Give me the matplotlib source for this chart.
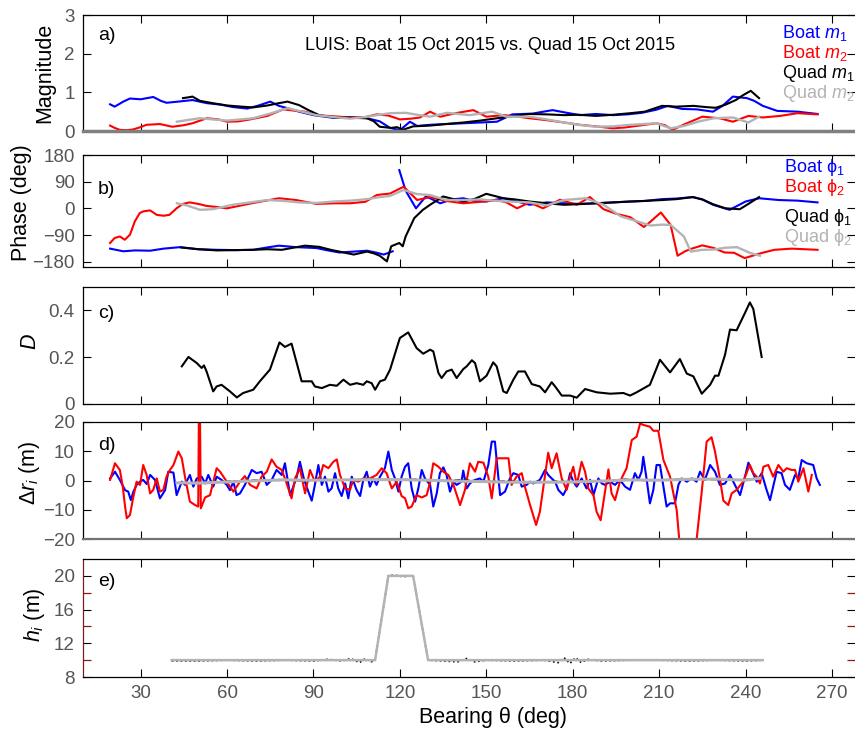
import numpy as np
import matplotlib
matplotlib.use("Agg")
import matplotlib.pyplot as plt

plt.rcParams['font.family'] = ['Liberation Sans', 'DejaVu Sans']
plt.rcParams['mathtext.fontset'] = 'custom'
plt.rcParams['mathtext.rm'] = 'Liberation Sans'
plt.rcParams['mathtext.it'] = 'Liberation Sans:italic'
plt.rcParams['mathtext.bf'] = 'Liberation Sans:bold'

nan = np.nan

# ---- a) magnitude ----
boat_m1_t = [19.4, 21, 24, 26.3, 30, 34.4, 37, 39, 43, 48, 53, 58, 62, 67, 71, 75, 78, 81, 85,
             90, 97, 103, 108.6, 113, 116.6, 120, 123.5, 126, 130.5, 136, 142, 148, 153.7, 159,
             166, 173, 178, 182.5, 188, 194, 199, 204, 209, 213, 218, 223, 228.7, 232, 235.6,
             240.5, 243, 246, 251, 258, 265]
boat_m1 = [0.69, 0.63, 0.76, 0.84, 0.82, 0.88, 0.78, 0.73, 0.76, 0.8, 0.72, 0.68, 0.62, 0.58,
           0.66, 0.76, 0.65, 0.59, 0.5, 0.41, 0.34, 0.36, 0.33, 0.25, 0.08, 0.02, 0.24, 0.13,
           0.16, 0.18, 0.2, 0.22, 0.24, 0.43, 0.45, 0.54, 0.47, 0.41, 0.44, 0.41, 0.43, 0.47,
           0.55, 0.65, 0.57, 0.56, 0.5, 0.65, 0.89, 0.85, 0.78, 0.65, 0.52, 0.5, 0.44]
boat_m2_t = [19.4, 21, 22.8, 25, 27.4, 30, 32, 36.7, 41, 45, 48, 53, 57, 60, 64, 68, 74, 79.5,
             83, 87, 91, 97, 102.7, 108, 112, 116, 120, 124, 127, 130.5, 134, 140, 145.5, 150,
             156, 160, 165, 171, 177, 182.5, 188, 194, 198, 202, 209, 212, 214.7, 219, 225,
             231, 235.6, 241, 246, 252, 258, 265]
boat_m2 = [0.14, 0.08, 0.03, 0.02, 0.04, 0.1, 0.16, 0.18, 0.11, 0.15, 0.2, 0.33, 0.3, 0.24,
           0.25, 0.3, 0.39, 0.56, 0.53, 0.5, 0.41, 0.38, 0.35, 0.36, 0.43, 0.4, 0.3, 0.32, 0.35,
           0.5, 0.37, 0.47, 0.54, 0.37, 0.41, 0.38, 0.33, 0.28, 0.22, 0.16, 0.12, 0.07, 0.09,
           0.13, 0.2, 0.15, 0.03, 0.18, 0.37, 0.33, 0.24, 0.39, 0.35, 0.39, 0.46, 0.43]
quad_m1_t = [44.7, 46.5, 48, 50.6, 55, 60, 65, 69, 74, 78, 81, 85, 88, 92, 97, 103, 108.6, 111,
             113, 117, 119, 121, 124.6, 130.5, 136, 142, 148, 153.7, 159, 165, 171, 177, 182,
             188, 194, 200, 205, 211, 216, 222, 226, 229.6, 233, 236.6, 239, 241.8, 244.7]
quad_m1 = [0.85, 0.87, 0.89, 0.78, 0.72, 0.66, 0.63, 0.61, 0.66, 0.72, 0.76, 0.67, 0.55, 0.41,
           0.35, 0.34, 0.33, 0.25, 0.11, 0.08, 0.1, 0.03, 0.12, 0.14, 0.18, 0.22, 0.27, 0.33,
           0.38, 0.44, 0.43, 0.41, 0.42, 0.39, 0.42, 0.46, 0.5, 0.65, 0.63, 0.65, 0.62, 0.6,
           0.68, 0.8, 0.92, 1.04, 0.85]
quad_m2_t = [42.6, 46, 50.6, 55, 60, 65, 69, 75, 81, 86, 91, 97, 102.7, 108, 112, 116.6, 122,
             126, 130.5, 136.4, 144.3, 152, 157, 165, 171, 177, 182, 188, 194, 200, 209, 214,
             218.6, 224, 229, 235.6, 241, 244.7]
quad_m2 = [0.24, 0.28, 0.33, 0.3, 0.27, 0.3, 0.33, 0.45, 0.59, 0.5, 0.41, 0.36, 0.32, 0.36,
           0.41, 0.46, 0.47, 0.42, 0.37, 0.47, 0.41, 0.5, 0.37, 0.37, 0.3, 0.22, 0.16, 0.11,
           0.12, 0.16, 0.2, 0.07, 0.13, 0.25, 0.33, 0.35, 0.22, 0.37]

# ---- b) phase ----
boat_p1_t = [19.4, 24, 28, 33.3, 38, 43.7, 50, 56.5, 63, 69, 74, 78, 84, 91, 95, 99, 104, 108.6,
             112, 114.4, 117.5, nan, 119.8, 122, 125.6, 129, 130.5, 134, 138, 142, 146, 150,
             156, 160, 165, 171, 177, 182, 188, 194, 200, 205, 211, 216, 221.7, 225, 228.7,
             234.5, 240, 244.7, 251.6, 258, 265]
boat_p1 = [-136, -145, -142, -143, -136, -131, -138, -140, -141, -140, -132, -126, -131, -134,
           -142, -149, -146, -143, -150, -156, -145, nan, 129, 60, 0, 40, 34, 17, 30, 34, 25,
           23, 34, 25, 12, 20, 17, 15, 17, 20, 23, 25, 31, 33, 38, 30, 12, -5, 23, 34, 28, 26, 20]
boat_p2_t = [19.4, 21, 22.8, 24.5, 26.3, 28, 29.7, 31, 33.3, 35.6, 38, 40, 42.6, 44.7, 47, 50,
             53, 56, 60, 64, 68, 73, 78, 84, 91, 97, 102.7, 108, 112, 116.6, 121.3, 126, 130.5,
             136, 142, 148, 153.7, 157, 160.7, 165, 169.7, 175.6, 181.4, 186, 190.7, 195, 200,
             204.7, 207, 210.6, 214, 216.4, 219, 221, 225, 229, 232.7, 236, 239.7, 245.5, 250,
             256, 265]
boat_p2 = [-117, -100, -95, -106, -89, -44, -16, -10, -7, -22, -25, -22, 1, 15, 20, 15, 8, 5, 0,
           8, 16, 25, 34, 28, 15, 17, 17, 22, 45, 50, 73, 28, 38, 25, 17, 22, 28, 20, 0, 20, 0,
           29, 12, 38, -3, -18, -30, -63, -45, -14, -56, -160, -145, -137, -125, -134, -149,
           -150, -168, -151, -140, -136, -140]
quad_p1_t = [44, 50, 56.5, 63, 69, 74, 79, 83, 87, 92, 96, 100, 104, 108.6, 111, 113, 115.5,
             117, 119.8, 121, 122, 125, 128, 130.5, 135, 142, 146, 150, 156, 160, 165, 171, 177,
             182, 188, 194, 200, 205, 211, 216, 221.7, 225, 228.7, 233, 238, 241, 244.7]
quad_p1 = [-132, -138, -142, -141, -140, -138, -140, -133, -126, -130, -140, -148, -156, -146,
           -152, -160, -179, -128, -117, -128, -95, -33, -5, 12, 40, 23, 32, 49, 34, 30, 23, 17,
           12, 14, 17, 20, 23, 25, 28, 31, 38, 30, 14, 0, -3, 15, 38]
quad_p2_t = [42.6, 46, 50.6, 55, 62, 68, 74, 80, 85, 91, 97, 103, 108.6, 113, 116.6, 121.3, 126,
             130.5, 136, 142, 148, 153.7, 160, 165, 171, 177, 184.5, 190.7, 196.7, 202.4, 207,
             211, 214, 218.6, 221, 225, 229, 233, 237, 241.7, 245]
quad_p2 = [17, 10, -5, -3, 12, 20, 28, 25, 20, 18, 23, 26, 31, 38, 42, 62, 48, 45, 28, 28, 30,
           25, 22, 20, 10, 28, 34, 12, -27, -44, -58, -55, -56, -95, -146, -140, -139, -133,
           -131, -151, -160]

# ---- c) D ----
d_t = [44.3, 46.6, 49.5, 51.2, 52.0, 52.9, 55.2, 56.4, 58.1, 61.0, 63.4, 65.6, 69.1, 71.4, 74.9,
       78.2, 80.1, 82.4, 85.9, 89.4, 90.5, 92.9, 95.7, 98.1, 100.4, 102.7, 105.0, 107.3, 108.5,
       110.2, 111.4, 113.1, 114.8, 116.6, 120.0, 122.9, 125.8, 128.1, 130.5, 131.6, 133.4,
       134.5, 136.2, 138.0, 139.7, 142.0, 143.2, 145.0, 146.1, 147.8, 150.1, 152.4, 153.6,
       155.9, 157.1, 159.4, 161.1, 163.4, 165.8, 168.6, 170.4, 172.7, 173.9, 176.2, 179.1,
       181.4, 184.3, 188.3, 193.0, 197.6, 199.9, 202.2, 206.8, 210.3, 213.8, 217.2, 219.6,
       221.9, 224.8, 227.7, 229.4, 230.6, 232.9, 234.6, 236.9, 239.8, 241.5, 242.7, 245.6]
d_val = [0.161, 0.201, 0.175, 0.154, 0.165, 0.139, 0.054, 0.075, 0.082, 0.054, 0.028, 0.047,
         0.061, 0.097, 0.147, 0.263, 0.244, 0.258, 0.097, 0.097, 0.075, 0.068, 0.082, 0.078,
         0.104, 0.082, 0.089, 0.082, 0.097, 0.089, 0.061, 0.097, 0.104, 0.147, 0.282, 0.306,
         0.239, 0.215, 0.232, 0.225, 0.132, 0.111, 0.139, 0.147, 0.111, 0.149, 0.161, 0.187,
         0.175, 0.097, 0.121, 0.178, 0.161, 0.054, 0.047, 0.104, 0.139, 0.139, 0.085, 0.075,
         0.050, 0.093, 0.075, 0.036, 0.036, 0.027, 0.064, 0.050, 0.044, 0.047, 0.036, 0.050,
         0.082, 0.189, 0.135, 0.192, 0.130, 0.118, 0.044, 0.082, 0.121, 0.121, 0.211, 0.318,
         0.315, 0.389, 0.434, 0.406, 0.201]

# ---- d) delta r ----
boat_dr1_t = [19.4, 21.1, 22.8, 24.6, 25.7, 26.6, 27.5, 28.6, 29.8, 30.9, 32.1, 33.3, 35.0,
              36.7, 38.5, 39.6, 41.4, 42.5, 44.3, 45.4, 47.1, 48.3, 49.5, 51.2, 52.4, 53.5,
              55.2, 56.4, 58.1, 59.9, 61.0, 62.2, 63.3, 64.5, 66.2, 68.6, 70.3, 72.0, 73.8,
              75.5, 77.2, 79.0, 80.1, 81.9, 83.0, 84.2, 85.3, 86.5, 87.6, 89.4, 90.5, 91.7,
              92.9, 94.0, 95.2, 96.3, 97.5, 98.6, 99.8, 101.0, 102.1, 103.3, 105.0, 106.2,
              107.3, 108.5, 109.6, 110.8, 111.9, 113.1, 114.8, 116.0, 117.2, 118.3, 119.5,
              120.6, 121.8, 122.9, 124.1, 125.3, 126.4, 127.6, 128.7, 130.5, 131.6, 132.8,
              133.9, 135.1, 136.2, 137.4, 138.6, 139.7, 141.4, 142.0, 143.2, 144.3, 146.1,
              147.8, 149.0, 150.7, 151.9, 153.0, 153.6, 154.8, 156.5, 158.2, 159.4, 161.1,
              162.3, 164.0, 165.2, 166.3, 168.6, 170.4, 171.5, 172.7, 173.9, 175.0, 176.7,
              177.9, 179.1, 180.2, 181.4, 183.1, 184.8, 186.0, 187.2, 188.9, 190.1, 191.2,
              193.0, 194.7, 196.4, 198.2, 199.9, 201.6, 202.8, 203.9, 204.5, 205.7, 206.8,
              208.0, 209.1, 210.3, 211.5, 212.6, 213.8, 215.5, 216.7, 217.8, 219.6, 221.3,
              223.0, 224.2, 225.9, 227.7, 229.4, 231.1, 232.9, 234.6, 236.3, 238.1, 239.8,
              241.0, 242.1, 243.9, 245.6, 247.3, 248.5, 249.6, 250.8, 252.5, 253.7, 255.4,
              257.2, 258.3, 259.5, 261.2, 263.5, 264.7, 265.8]
boat_dr1 = [0.7, 3.0, 0.2, -3.3, -3.8, -6.7, -3.8, -1.5, -0.4, 0.2, -1.2, 1.9, 0.2, -6.1, -3.3,
            3.0, 2.7, -5.0, -0.4, -1.5, 1.9, -2.1, 0.7, 1.3, -1.0, 1.9, -2.1, 1.3, 0.2, -1.5,
            -3.3, -0.4, -5.0, -4.4, -1.5, 3.6, 2.5, 3.0, -1.5, 0.2, 3.6, 1.9, 5.9, -5.0, -2.1,
            1.3, 6.4, 1.3, -2.1, -6.9, -1.5, 5.3, -1.5, 1.3, -3.8, -2.7, 2.5, -2.7, -5.3, -1.0,
            -6.1, 1.3, -3.3, -5.3, 0.2, 3.0, -2.1, 0.7, -1.5, 1.3, 4.2, 9.9, 3.6, 0.7, -3.8,
            1.3, 4.7, 5.9, -2.7, -7.2, -2.7, 3.6, 0.7, -1.5, -8.9, -4.4, 2.5, 4.5, 1.9, -3.8,
            -0.4, -1.5, -0.4, 3.4, -2.7, -1.0, 0.2, 0.7, -0.4, 5.3, 13.3, 13.3, 7.0, -5.0,
            -3.8, 0.7, 2.5, 1.9, -2.1, -1.5, -0.4, -1.0, 0.2, 3.6, 1.9, 0.7, -0.4, -3.2, -5.0,
            -2.7, 2.5, -0.4, -2.1, 0.7, -2.7, 0.2, -5.0, 0.7, -1.0, -1.5, -0.4, -1.5, 0.2,
            -2.1, -3.2, 2.5, 0.2, 3.0, 8.1, 0.2, -7.8, -3.2, 5.3, 5.3, -2.1, -8.9, -7.8, -7.8,
            -1.5, 0.7, -0.4, 0.7, -0.4, 3.0, 0.2, 5.3, 3.0, -1.5, -1.0, 1.9, -1.5, -5.0, 1.3,
            6.1, 3.6, -0.4, 2.5, -3.2, -6.7, -2.1, 3.0, 2.5, -1.5, -3.2, 1.9, 0.7, 7.0, 5.9,
            5.3, 0.7, -1.5]
boat_dr2_t = [19.4, 21.1, 22.8, 23.8, 24.6, 25.2, 26.3, 27.5, 28.6, 29.8, 30.9, 32.1, 33.3,
              34.4, 35.6, 36.7, 37.9, 39.0, 40.2, 41.4, 43.1, 44.3, 45.4, 47.1, 48.9, 50.0,
              50.4, 50.9, 52.4, 54.1, 56.4, 57.6, 59.9, 62.2, 64.5, 66.2, 68.0, 70.3, 72.0,
              73.8, 75.5, 77.2, 79.0, 80.7, 82.4, 83.6, 85.3, 87.1, 88.8, 90.5, 92.3, 93.4,
              95.2, 96.9, 98.1, 99.2, 101.0, 102.7, 103.8, 105.6, 107.3, 109.6, 111.9, 113.7,
              115.4, 117.2, 118.9, 120.6, 121.8, 122.9, 124.1, 125.8, 127.6, 129.3, 130.5,
              131.6, 133.4, 135.1, 136.8, 138.6, 140.9, 142.6, 144.3, 146.1, 147.2, 149.0,
              150.7, 151.9, 153.6, 155.3, 157.7, 158.8, 160.5, 162.3, 163.4, 165.2, 167.3,
              168.6, 170.4, 171.5, 172.7, 174.4, 176.2, 177.9, 179.1, 180.2, 181.4, 183.1,
              184.3, 185.4, 187.2, 188.3, 189.7, 191.2, 192.4, 193.5, 194.7, 196.4, 198.7,
              200.5, 202.2, 203.4, 204.5, 206.8, 208.0, 209.7, 211.5, 213.8, 216.1, 217.0,
              220.0, 223.0, 224.8, 226.5, 228.2, 229.4, 231.1, 232.3, 234.0, 235.2, 236.9,
              239.2, 241.0, 241.5, 242.7, 243.9, 245.0, 246.2, 247.9, 249.6, 251.4, 253.1,
              254.3, 256.0, 257.2, 258.3, 260.1, 261.8, 263.0]
boat_dr2 = [0.2, 5.9, 3.6, -2.1, -8.9, -12.9, -11.8, -5.5, -0.4, -1.5, 5.3, 1.9, -4.4, -3.2,
            0.7, -3.8, -3.2, 1.3, 3.6, 5.3, 9.9, 7.6, 1.3, -7.2, -8.4, -8.9, 45.0, -9.5, -5.8,
            -5.0, 4.2, 3.0, -0.4, -3.8, -0.4, 1.5, -1.5, -2.7, 1.3, 3.0, 7.2, 4.7, 3.6, -1.0,
            -6.1, 0.7, 4.2, -4.4, 3.6, -0.4, 1.3, 5.3, 4.2, 6.4, 7.2, 1.9, -2.7, -3.2, 0.2,
            -0.4, 0.7, 0.7, 1.9, 4.2, 2.5, -2.7, -0.4, -5.3, -6.1, -9.5, -8.9, -5.0, -5.8,
            -5.0, -0.6, 5.9, 4.7, 3.0, 1.9, -1.5, -8.4, -3.2, 5.9, 3.0, 6.4, 6.1, 1.3, -6.1,
            7.6, 7.6, 7.6, -1.5, 1.3, 2.5, -2.1, -8.4, -15.2, -10.7, 1.9, 9.5, 4.2, 9.3, 0.7,
            -3.2, 1.3, 4.7, -1.5, 6.4, 3.0, -2.7, -5.0, -10.7, -13.6, -3.8, 3.8, -4.4, -6.7,
            -0.4, 4.2, 13.8, 15.0, 19.5, 19.0, 18.4, 17.0, 17.0, 7.0, 1.3, -10.1, -20.3,
            -40.0, -20.3, -3.8, 13.3, 14.8, 9.9, 0.7, -6.9, -8.4, -4.4, -3.2, -0.4, 4.2, 5.3,
            2.5, 1.3, -1.0, 4.7, 5.3, 1.3, 5.3, 3.0, 4.2, 3.6, 3.6, -0.4, 4.2, -3.8, 1.9]
quad_dr1_t = [44, 50, 56, 62, 70, 78, 86, 94, 102, 110, 118, 126, 134, 142, 150, 158, 166,
              174, 182, 190, 198, 206, 214, 222, 230, 238, 245]
quad_dr1 = [-0.9, -0.8, -0.6, -0.2, 0.1, 0.3, -0.1, 0.3, 0.1, 0.5, 0.2, 0.4, -0.1, 0.2, -0.4,
            -0.2, -0.7, -0.3, -0.6, -0.2, 0.4, 0.0, 0.3, 0.6, 0.3, 0.1, 0.8]
quad_dr2_t = [42.6, 50, 60, 70, 80, 90, 100, 110, 120, 130, 140, 150, 160, 170, 180, 190, 200,
              210, 220, 230, 240, 245]
quad_dr2 = [-0.8, -0.9, -0.5, -0.1, 0.2, 0.1, 0.2, 0.3, 0.3, 0.1, -0.2, -0.4, -0.6, -0.6,
            -0.5, -0.2, 0.2, 0.1, 0.4, 0.5, 0.1, 0.8]

# ---- e) h ----
quad_h1_t = [40.8, 50, 60, 70, 80, 90, 95, 100, 103, 106, 108, 110, 111.4, 116, 118, 121,
             124.6, 129.8, 135, 140, 143, 146, 150, 160, 170, 175, 177, 179, 181, 183, 185, 190,
             200, 210, 220, 230, 240, 246]
quad_h1 = [9.9, 9.9, 10.0, 9.9, 10.0, 9.9, 10.1, 9.9, 10.2, 9.7, 10.2, 9.8, 10.0, 20.0, 20.1,
           19.9, 20.0, 10.0, 9.9, 9.8, 10.2, 9.8, 10.0, 9.9, 10.0, 9.7, 10.3, 9.6, 10.3, 9.7,
           10.1, 9.9, 10.0, 10.0, 9.9, 10.0, 9.9, 10.0]
quad_h2_t = [40.8, 111.4, 116, 124.6, 129.8, 246]
quad_h2 = [10, 10, 20, 20, 10, 10]

BLUE, RED, BLACK, GRAY = '#0000ff', '#ff0000', '#000000', '#b3b3b3'
TICKC = '#555555'
W, H = 855, 730

fig = plt.figure(figsize=(W / 100, H / 100), dpi=100)


def make_ax(top, bottom, ylim, yticks, ylabels=None):
    ax = fig.add_axes([83 / W, 1 - bottom / H, (W - 83) / W, (bottom - top) / H])
    ax.set_xlim(10, 278)
    ax.set_ylim(*ylim)
    ax.set_xticks(range(30, 271, 30))
    ax.set_yticks(yticks)
    if ylabels is not None:
        ax.set_yticklabels(ylabels)
    ax.set_xticklabels([])
    ax.tick_params(direction='in', top=True, right=True, length=5.5, width=0.8,
                   labelsize=13.5, colors='black', labelcolor=TICKC, pad=6)
    ax.spines['right'].set_visible(False)
    for sp in ('top', 'bottom', 'left'):
        ax.spines[sp].set_linewidth(0.9)
    return ax


# a)
ax = make_ax(15, 131, (0, 3), [0, 1, 2, 3])
ax.spines['bottom'].set_color('0.5')
ax.spines['bottom'].set_linewidth(2.5)
ax.plot(boat_m1_t, boat_m1, color=BLUE, lw=1.5)
ax.plot(boat_m2_t, boat_m2, color=RED, lw=1.5)
ax.plot(quad_m1_t, quad_m1, color=BLACK, lw=1.5)
ax.plot(quad_m2_t, quad_m2, color=GRAY, lw=1.7)

# b)
ax = make_ax(155, 267, (-198, 180), [-180, -90, 0, 90, 180])
ax.plot(boat_p1_t, boat_p1, color=BLUE, lw=1.5)
ax.plot(boat_p2_t, boat_p2, color=RED, lw=1.5)
ax.plot(quad_p1_t, quad_p1, color=BLACK, lw=1.5)
ax.plot(quad_p2_t, quad_p2, color=GRAY, lw=1.7)

# c)
ax = make_ax(287, 404, (0, 0.5), [0, 0.2, 0.4], ['0', '0.2', '0.4'])
ax.plot(d_t, d_val, color=BLACK, lw=1.5)

# d)
ax = make_ax(422, 539, (-20, 20), [-20, -10, 0, 10, 20])
ax.spines['bottom'].set_color('0.45')
ax.spines['bottom'].set_linewidth(1.6)
ax.plot(boat_dr1_t, boat_dr1, color=BLUE, lw=1.5)
ax.plot(boat_dr2_t, boat_dr2, color=RED, lw=1.5)
ax.plot(quad_dr1_t, quad_dr1, color=BLACK, lw=1.2, ls='--')
ax.plot(quad_dr2_t, quad_dr2, color=GRAY, lw=2.2)

# e)
ax = make_ax(559, 677, (8, 22), [8, 12, 16, 20])
ax.set_xticklabels([str(v) for v in range(30, 271, 30)])
ax.spines['left'].set_color('#7a1c1c')
ax.set_yticks([10, 14, 18], minor=True)
ax.tick_params(which='minor', direction='in', left=True, right=True, length=5.5, width=0.9,
               color='#8b1a1a')
ax.plot(quad_h1_t, quad_h1, color=BLACK, lw=1.2, ls=':')
ax.plot(quad_h2_t, quad_h2, color=GRAY, lw=1.8)

# labels
def ftext(x, y, s, **kw):
    fig.text(x / W, 1 - y / H, s, **kw)

ftext(45, 73, 'Magnitude', rotation=90, ha='center', va='center', fontsize=15.5)
ftext(22, 203, 'Phase (deg)', rotation=90, ha='center', va='center', fontsize=15.5)
ftext(30, 342, '$D$', rotation=90, ha='center', va='center', fontsize=15.5)
ftext(29, 473, r'$\Delta r_i$ (m)', rotation=90, ha='center', va='center', fontsize=15.5)
ftext(34, 615, '$h_i$ (m)', rotation=90, ha='center', va='center', fontsize=15.5)
ftext(493, 717, 'Bearing θ (deg)', ha='center', va='center', fontsize=15.5)

for lab, y in [('a)', 36), ('b)', 189), ('c)', 313), ('d)', 445), ('e)', 581)]:
    ftext(98, y, lab, ha='left', va='center', fontsize=14)

ftext(490, 46, 'LUIS: Boat 15 Oct 2015 vs. Quad 15 Oct 2015', ha='center', va='center',
      fontsize=13)

for s, c, y in [('Boat $m_1$', BLUE, 33), ('Boat $m_2$', RED, 53),
                ('Quad $m_1$', BLACK, 73), ('Quad $m_2$', GRAY, 93)]:
    ftext(782, y, s, color=c, ha='left', va='center', fontsize=13)
for s, c, y in [('Boat ϕ$_1$', BLUE, 168), ('Boat ϕ$_2$', RED, 187),
                ('Quad ϕ$_1$', BLACK, 218), ('Quad ϕ$_2$', GRAY, 237)]:
    ftext(784, y, s, color=c, ha='left', va='center', fontsize=13)

fig.savefig('out.png', dpi=100)
